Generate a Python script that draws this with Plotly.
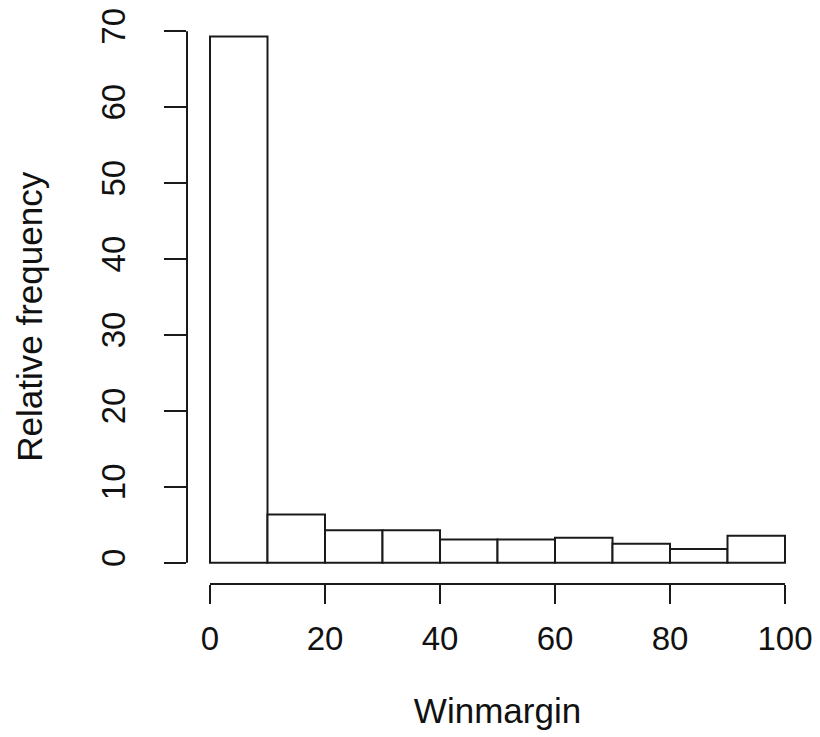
import plotly.graph_objects as go

bin_left = [0, 10, 20, 30, 40, 50, 60, 70, 80, 90]
bin_width = 10
rel_freq = [69.3, 6.35, 4.29, 4.29, 3.07, 3.07, 3.28, 2.49, 1.80, 3.54]
x_ticks = [0, 20, 40, 60, 80, 100]
y_ticks = [0, 10, 20, 30, 40, 50, 60, 70]
x_title = "Winmargin"
y_title = "Relative frequency"

FONT = "Liberation Sans, Arial, sans-serif"
FS = 33
FT = 35
LC = "#1a1a1a"

centers = [b + bin_width / 2 for b in bin_left]

fig = go.Figure(go.Bar(
    x=centers, y=rel_freq, width=[bin_width] * len(centers),
    marker=dict(color="white", line=dict(color=LC, width=2)),
    hoverinfo="skip",
))

fig.update_layout(
    width=820, height=737,
    margin=dict(l=187, r=10, t=8, b=153),
    paper_bgcolor="white", plot_bgcolor="white",
    showlegend=False,
    font=dict(family=FONT, size=FS, color="#111"),
    xaxis=dict(
        range=[-4, 104], tickvals=x_ticks, ticks="outside", ticklen=19,
        tickwidth=2, tickcolor=LC, showgrid=False, zeroline=False, showline=False,
        ticklabelstandoff=6,
        title=dict(text=x_title, standoff=42, font=dict(size=FT)),
    ),
    yaxis=dict(
        range=[-2.8, 72.8], tickvals=y_ticks, ticks="outside", ticklen=22,
        tickwidth=2, tickcolor=LC, showgrid=False, zeroline=False, showline=False,
        tickangle=-90, ticklabelstandoff=26,
    ),
    annotations=[dict(
        text=y_title, textangle=-90, xref="paper", yref="paper",
        x=-0.255, y=0.465, xanchor="center", yanchor="middle",
        showarrow=False, font=dict(size=FT),
    )],
)

# R-style axis lines spanning only first to last tick
fig.add_shape(type="line", xref="x", yref="paper", x0=x_ticks[0], x1=x_ticks[-1],
              y0=0, y1=0, line=dict(color=LC, width=2))
fig.add_shape(type="line", xref="paper", yref="y", x0=0, x1=0,
              y0=y_ticks[0], y1=y_ticks[-1], line=dict(color=LC, width=2))

fig.write_html("out.html")
